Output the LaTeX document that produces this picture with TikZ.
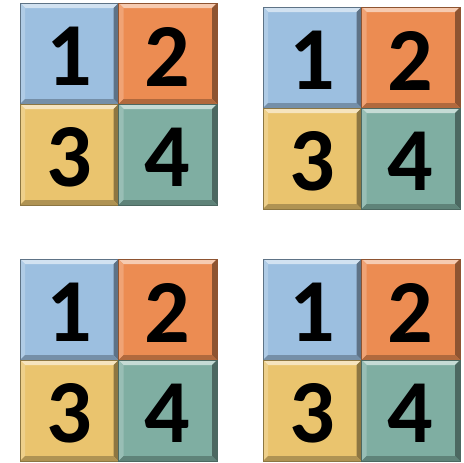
\documentclass[tikz,border=0pt]{standalone}
\usepackage{fontspec}
\newfontfamily\digitfont{Carlito}
\usepackage{tikz}
\usetikzlibrary{positioning}
\definecolor{tileblue}{RGB}{156,191,224}
\definecolor{tileorange}{RGB}{236,140,82}
\definecolor{tileyellow}{RGB}{234,196,110}
\definecolor{tileteal}{RGB}{127,174,162}
\newcommand{\bevel}{5pt}

\begin{document}
\begin{tikzpicture}[
  x=1pt, y=-1pt,
  tile/.style={minimum width=98.5pt, minimum height=101pt, inner sep=0pt, outer sep=0pt,
    fill=#1, draw=#1!60!black, line width=0.4pt,
    path picture={
      % top and left light, bottom and right dark
      \fill[#1!45!white] (path picture bounding box.north west) -- (path picture bounding box.north east)
        -- ([shift={(-\bevel,-\bevel)}]path picture bounding box.north east)
        -- ([shift={(\bevel,-\bevel)}]path picture bounding box.north west) -- cycle;
      \fill[#1!80!white] (path picture bounding box.north west) -- (path picture bounding box.south west)
        -- ([shift={(\bevel,\bevel)}]path picture bounding box.south west)
        -- ([shift={(\bevel,-\bevel)}]path picture bounding box.north west) -- cycle;
      \fill[#1!60!black] (path picture bounding box.north east) -- (path picture bounding box.south east)
        -- ([shift={(-\bevel,\bevel)}]path picture bounding box.south east)
        -- ([shift={(-\bevel,-\bevel)}]path picture bounding box.north east) -- cycle;
      \fill[#1!75!black] (path picture bounding box.south west) -- (path picture bounding box.south east)
        -- ([shift={(-\bevel,\bevel)}]path picture bounding box.south east)
        -- ([shift={(\bevel,\bevel)}]path picture bounding box.south west) -- cycle;
    }},
  digit/.style={yshift=-3pt, font=\digitfont\bfseries\fontsize{90}{90}\selectfont}]
\useasboundingbox (0,0) rectangle (464,463);
\foreach \g/\x/\y in {a/20/3, b/263/7, c/20/259, d/263/259} {
  \node[tile=tileblue, anchor=north west] (\g1) at (\x,\y) {};
  \node[tile=tileorange, right=0pt of \g1] (\g2) {};
  \node[tile=tileyellow, below=0pt of \g1] (\g3) {};
  \node[tile=tileteal, right=0pt of \g3] (\g4) {};
  \foreach \n in {1,2,3,4}
    \node[digit] (\g\n t) at (\g\n) {\n};
}
\end{tikzpicture}
\end{document}
